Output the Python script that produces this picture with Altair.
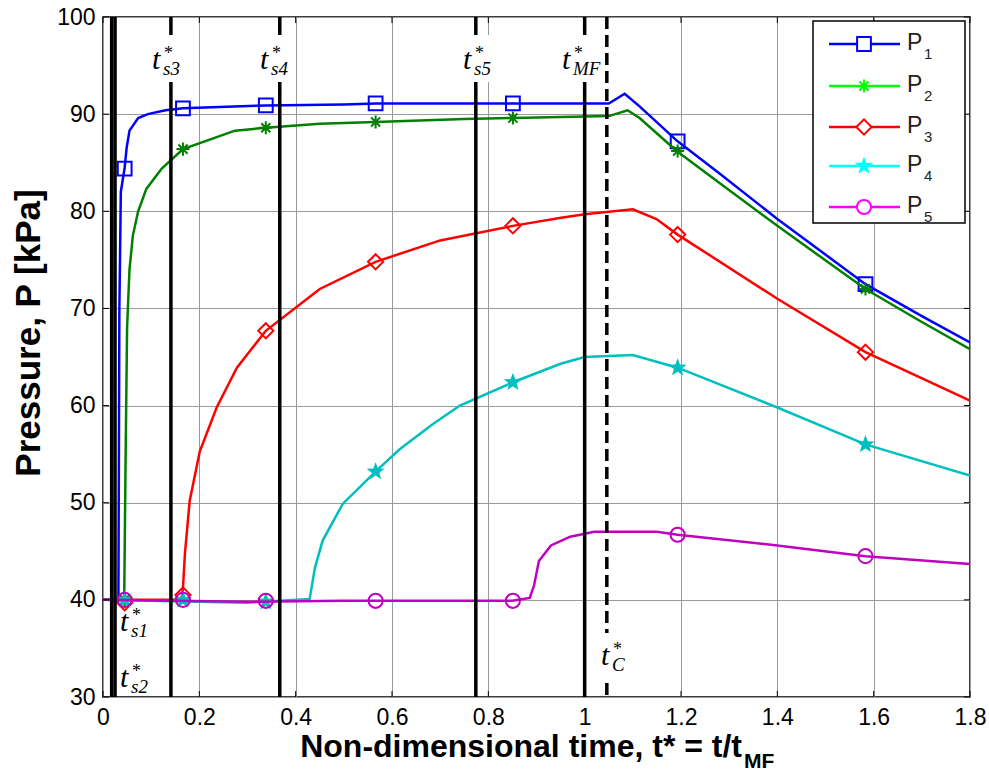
import math
import altair as alt
import pandas as pd

# ---------------- data ----------------
p1_x = [0, 0.032, 0.034, 0.037, 0.045, 0.049, 0.055, 0.073, 0.093, 0.13, 0.166, 0.338, 0.5, 0.566, 0.851, 1.05, 1.083, 1.114, 1.193, 1.28, 1.4, 1.583, 1.7, 1.8]
p1_y = [40, 40, 70, 82, 84.5, 86.5, 88.3, 89.6, 90.0, 90.4, 90.6, 90.9, 91.0, 91.1, 91.1, 91.1, 92.1, 90.8, 87.2, 83.9, 79.2, 72.5, 69.2, 66.5]

p2_x = [0, 0.044, 0.047, 0.05, 0.055, 0.062, 0.073, 0.09, 0.122, 0.166, 0.274, 0.338, 0.45, 0.566, 0.75, 0.851, 1.05, 1.089, 1.114, 1.191, 1.28, 1.4, 1.583, 1.7, 1.8]
p2_y = [40, 40, 55, 68, 74, 77.5, 80.0, 82.3, 84.4, 86.4, 88.3, 88.6, 89.0, 89.2, 89.5, 89.6, 89.8, 90.4, 89.6, 86.2, 82.9, 78.5, 72.0, 68.6, 65.8]

p3_x = [0, 0.163, 0.166, 0.17, 0.18, 0.201, 0.236, 0.278, 0.338, 0.45, 0.566, 0.7, 0.851, 0.948, 1.0, 1.1, 1.149, 1.193, 1.4, 1.583, 1.8]
p3_y = [40, 40, 41.2, 44.7, 50.2, 55.3, 59.8, 63.9, 67.7, 72.0, 74.8, 77.0, 78.5, 79.3, 79.7, 80.2, 79.2, 77.6, 71.0, 65.5, 60.5]

p4_x = [0, 0.3, 0.429, 0.44, 0.456, 0.498, 0.568, 0.616, 0.685, 0.741, 0.851, 0.95, 1.0, 1.1, 1.193, 1.4, 1.583, 1.8]
p4_y = [40, 39.7, 40.1, 43.3, 46.1, 49.9, 53.3, 55.5, 58.1, 60.0, 62.4, 64.3, 65.0, 65.2, 63.9, 59.8, 56.0, 52.8]

p5_x = [0, 0.3, 0.5, 0.85, 0.886, 0.895, 0.905, 0.93, 0.97, 1.02, 1.15, 1.193, 1.4, 1.583, 1.8]
p5_y = [40, 39.8, 39.9, 39.9, 40.2, 41.5, 44.0, 45.6, 46.5, 47.0, 47.0, 46.7, 45.6, 44.5, 43.7]

marker_x = [0.045, 0.166, 0.338, 0.566, 0.851, 1.193, 1.583]
m1 = [84.4, 90.6, 90.9, 91.1, 91.1, 87.2, 72.5]
m2 = [40.0, 86.4, 88.6, 89.2, 89.6, 86.2, 72.0]
m3 = [39.7, 40.5, 67.7, 74.8, 78.5, 77.6, 65.5]
m4 = [40.0, 40.0, 39.8, 53.2, 62.4, 63.9, 56.0]
m5 = [40.0, 40.0, 39.9, 39.9, 39.9, 46.7, 44.5]

series_names = ["1", "2", "3", "4", "5"]
line_colors = ["#0000FF", "#008000", "#FF0000", "#00BFBF", "#BF00BF"]
legend_colors = ["#0000FF", "#00FF00", "#FF0000", "#00FFFF", "#FF00FF"]

event_x = [0.018, 0.025, 0.141, 0.367, 0.774, 1.0]
tc_x = [1.046]

x_ticks = [0, 0.2, 0.4, 0.6, 0.8, 1.0, 1.2, 1.4, 1.6, 1.8]
y_ticks = [30, 40, 50, 60, 70, 80, 90, 100]

# ---------------- layout ----------------
W, H = 867, 680
xs = alt.Scale(domain=[0, 1.8], nice=False, zero=False)
ys = alt.Scale(domain=[30, 100], nice=False, zero=False)

x_axis = alt.Axis(values=x_ticks, format="~g", title=None, ticks=False, domain=False,
                  grid=True, gridColor="#9a9a9a", gridWidth=1, labelFontSize=23,
                  labelFont="Liberation Sans", labelColor="black", labelPadding=9,
                  labelFlush=False)
y_axis = alt.Axis(values=y_ticks, title=None, ticks=False, domain=False,
                  grid=True, gridColor="#9a9a9a", gridWidth=1, labelFontSize=23,
                  labelFont="Liberation Sans", labelColor="black", labelPadding=8)

X = lambda f: alt.X(f, scale=xs, axis=x_axis)
Y = lambda f: alt.Y(f, scale=ys, axis=y_axis)
PX = lambda f: alt.X(f, scale=None, axis=None)
PY = lambda f: alt.Y(f, scale=None, axis=None)

# marker shapes
star_pts = []
for k in range(10):
    r = 1.0 if k % 2 == 0 else 0.42
    a = -math.pi / 2 + k * math.pi / 5
    star_pts.append(f"{r*math.cos(a):.3f},{r*math.sin(a):.3f}")
STAR = "M" + "L".join(star_pts) + "Z"
ASTER = "M0,-1L0,1M-1,0L1,0M-0.7,-0.7L0.7,0.7M-0.7,0.7L0.7,-0.7"

shapes = ["square", ASTER, "diamond", STAR, "circle"]
filled = [False, False, False, True, False]
sizes = [190, 170, 230, 360, 200]
swidth = [2, 2, 2, 1, 2]

curves = [(p1_x, p1_y), (p2_x, p2_y), (p3_x, p3_y), (p4_x, p4_y), (p5_x, p5_y)]
marks = [m1, m2, m3, m4, m5]

layers = []
for i in range(5):
    cdf = pd.DataFrame({"t": curves[i][0], "p": curves[i][1]})
    layers.append(alt.Chart(cdf).mark_line(color=line_colors[i], strokeWidth=2.5, clip=True)
                  .encode(x=X("t:Q"), y=Y("p:Q"), order="t:Q"))
    mdf = pd.DataFrame({"t": marker_x, "p": marks[i]})
    layers.append(alt.Chart(mdf).mark_point(shape=shapes[i], filled=filled[i], size=sizes[i],
                                            color=line_colors[i], strokeWidth=swidth[i], opacity=1)
                  .encode(x=X("t:Q"), y=Y("p:Q")))

# event lines
edf = pd.DataFrame({"t": event_x})
layers.append(alt.Chart(edf).mark_rule(color="black", strokeWidth=3.5)
              .encode(x=X("t:Q"), y=alt.value(0), y2=alt.value(H)))
cdf2 = pd.DataFrame({"t": tc_x})
layers.append(alt.Chart(cdf2).mark_rule(color="black", strokeWidth=3.5, strokeDash=[12, 6])
              .encode(x=X("t:Q"), y=alt.value(0), y2=alt.value(H)))

# white backgrounds behind labels (pixel coordinates of the plot area)
gaps = pd.DataFrame({"x1": [45, 153, 356, 455, 495], "x2": [85, 191, 394, 501, 526],
                     "y1": [18, 18, 18, 18, 616], "y2": [65, 65, 65, 65, 663]})
layers.append(alt.Chart(gaps).mark_rect(color="white")
              .encode(x=PX("x1:Q"), x2="x2:Q", y=PY("y1:Q"), y2="y2:Q"))

# event labels: t^*_{sub}
lab_x0 = [17, 17, 49, 157, 360, 459, 498]
lab_b = [614, 670, 52, 52, 52, 52, 648]
lab_sub = ["s1", "s2", "s3", "s4", "s5", "MF", "C"]
tdf = pd.DataFrame({"px": lab_x0, "py": lab_b, "txt": ["t"] * 7})
sdf = pd.DataFrame({"px": [v + 12 for v in lab_x0], "py": [v - 10 for v in lab_b], "txt": ["*"] * 7})
bdf = pd.DataFrame({"px": [v + 11 for v in lab_x0], "py": [v + 6 for v in lab_b], "txt": lab_sub})
serif = "Liberation Serif"
layers.append(alt.Chart(tdf).mark_text(font=serif, fontStyle="italic", fontSize=30, align="left",
                                       baseline="alphabetic", color="black")
              .encode(x=PX("px:Q"), y=PY("py:Q"), text="txt:N"))
layers.append(alt.Chart(sdf).mark_text(font=serif, fontSize=18, align="left",
                                       baseline="alphabetic", color="black")
              .encode(x=PX("px:Q"), y=PY("py:Q"), text="txt:N"))
layers.append(alt.Chart(bdf).mark_text(font=serif, fontStyle="italic", fontSize=19, align="left",
                                       baseline="alphabetic", color="black")
              .encode(x=PX("px:Q"), y=PY("py:Q"), text="txt:N"))

# inward tick marks
xt = pd.DataFrame({"t": x_ticks})
yt = pd.DataFrame({"p": y_ticks})
layers.append(alt.Chart(xt).mark_rule(color="black", strokeWidth=1)
              .encode(x=X("t:Q"), y=alt.value(H), y2=alt.value(H - 6)))
layers.append(alt.Chart(xt).mark_rule(color="black", strokeWidth=1)
              .encode(x=X("t:Q"), y=alt.value(0), y2=alt.value(6)))
layers.append(alt.Chart(yt).mark_rule(color="black", strokeWidth=1)
              .encode(y=Y("p:Q"), x=alt.value(0), x2=alt.value(6)))
layers.append(alt.Chart(yt).mark_rule(color="black", strokeWidth=1)
              .encode(y=Y("p:Q"), x=alt.value(W - 6), x2=alt.value(W)))

# legend
box = pd.DataFrame({"x1": [710], "x2": [862], "y1": [4], "y2": [206]})
layers.append(alt.Chart(box).mark_rect(fill="white", stroke="black", strokeWidth=1.5)
              .encode(x=PX("x1:Q"), x2="x2:Q", y=PY("y1:Q"), y2="y2:Q"))
row_y = [27, 69, 110, 149, 190]
for i in range(5):
    ldf = pd.DataFrame({"a": [726], "b": [797], "y": [row_y[i]], "m": [761]})
    layers.append(alt.Chart(ldf).mark_rule(color=legend_colors[i], strokeWidth=2.5)
                  .encode(x=PX("a:Q"), x2="b:Q", y=PY("y:Q")))
    layers.append(alt.Chart(ldf).mark_point(shape=shapes[i], filled=filled[i], size=sizes[i],
                                            color=legend_colors[i], strokeWidth=swidth[i],
                                            opacity=1, fill="white" if not filled[i] else legend_colors[i])
                  .encode(x=PX("m:Q"), y=PY("y:Q")))
ptx = pd.DataFrame({"px": [804] * 5, "py": [v + 6 for v in row_y], "txt": ["P"] * 5})
psub = pd.DataFrame({"px": [821] * 5, "py": [v + 15 for v in row_y], "txt": series_names})
layers.append(alt.Chart(ptx).mark_text(font="Liberation Sans", fontSize=23, align="left",
                                       baseline="alphabetic", color="#222222")
              .encode(x=PX("px:Q"), y=PY("py:Q"), text="txt:N"))
layers.append(alt.Chart(psub).mark_text(font="Liberation Sans", fontSize=15, align="left",
                                        baseline="alphabetic", color="#222222")
              .encode(x=PX("px:Q"), y=PY("py:Q"), text="txt:N"))

# axis titles
yt_df = pd.DataFrame({"px": [-74], "py": [316], "txt": ["Pressure, P [kPa]"]})
layers.append(alt.Chart(yt_df).mark_text(font="Liberation Sans", fontWeight="bold", fontSize=35,
                                         angle=270, align="center", baseline="middle", color="black")
              .encode(x=PX("px:Q"), y=PY("py:Q"), text="txt:N"))
xt_df = pd.DataFrame({"px": [639], "py": [740], "txt": ["Non-dimensional time, t* = t/t"]})
xs_df = pd.DataFrame({"px": [641], "py": [751], "txt": ["MF"]})
layers.append(alt.Chart(xt_df).mark_text(font="Liberation Sans", fontWeight="bold", fontSize=32,
                                         align="right", baseline="alphabetic", color="black")
              .encode(x=PX("px:Q"), y=PY("py:Q"), text="txt:N"))
layers.append(alt.Chart(xs_df).mark_text(font="Liberation Sans", fontWeight="bold", fontSize=21,
                                         align="left", baseline="alphabetic", color="black")
              .encode(x=PX("px:Q"), y=PY("py:Q"), text="txt:N"))

chart = (alt.layer(*layers)
         .properties(width=W, height=H, background="white",
                     padding={"left": 103, "top": 17, "right": 19, "bottom": 79},
                     autosize=alt.AutoSizeParams(type="none"))
         .configure_view(stroke="black", strokeWidth=1.5))

chart.save("out.html", embed_options={"renderer": "svg", "actions": False})
